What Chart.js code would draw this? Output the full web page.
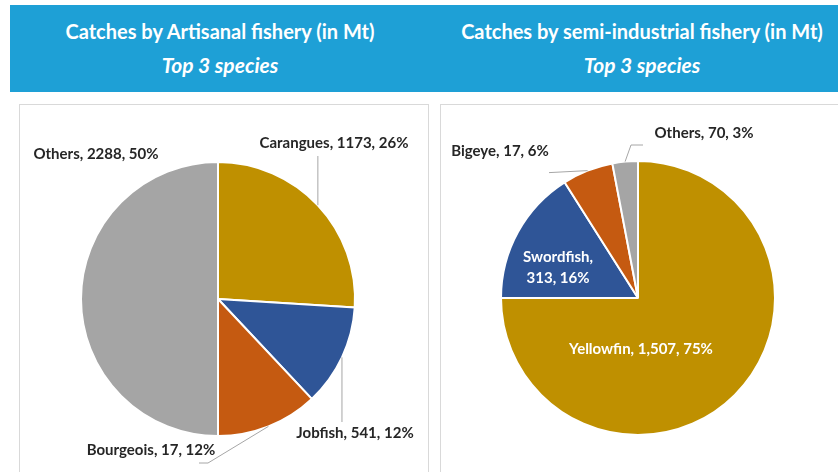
<!DOCTYPE html>
<html>
<head>
<meta charset="utf-8">
<script src="https://cdn.jsdelivr.net/npm/chart.js@4/dist/chart.umd.min.js"></script>
<style>
  body { margin: 0; background: #fff; width: 838px; height: 472px; overflow: hidden; position: relative; font-family: Lato, "Open Sans", sans-serif; }
  .header { position: absolute; left: 10px; top: 5px; width: 828px; height: 87px; background: #1ea0d6; }
  .title { position: absolute; top: 10px; color: #fff; font-weight: bold; font-size: 20px; text-align: center; line-height: 33px; white-space: nowrap; }
  .title i { display: block; font-size: 21px; }
  .panel { position: absolute; top: 104px; height: 380px; border: 1.5px solid #d9d9d9; box-sizing: border-box; }
  .panel canvas { position: absolute; left: 0; top: 0; }
</style>
</head>
<body>
<div class="header">
  <div class="title" style="left:30px;width:360px">Catches by Artisanal fishery (in Mt)<i>Top 3 species</i></div>
  <div class="title" style="left:432px;width:400px">Catches by semi-industrial fishery (in Mt)<i>Top 3 species</i></div>
</div>
<div class="panel" style="left:19px;width:410px"><canvas id="artisanal"></canvas></div>
<div class="panel" style="left:440px;width:410px"><canvas id="semiIndustrial"></canvas></div>
<script>
// Artisanal fishery
const artLabels = ['Carangues', 'Jobfish', 'Bourgeois', 'Others'];
const artValues = ['1173', '541', '17', '2288'];
const artShares = [26, 12, 12, 50];

// Semi-industrial fishery
const semiLabels = ['Yellowfin', 'Swordfish', 'Bigeye', 'Others'];
const semiValues = ['1,507', '313', '17', '70'];
const semiShares = [75, 16, 6, 3];

const colors = ['#bf9000', '#2f5597', '#c55a11', '#a5a5a5'];

// Labels drawn next to each slice, with leader lines from the slice edge
const sliceLabels = {
    id: 'sliceLabels',
    afterDatasetsDraw(chart, args, opts) {
        const c = chart.ctx;
        const meta = chart.getDatasetMeta(0);
        const names = chart.data.labels;
        const vals = opts.values;
        const shares = chart.data.datasets[0].data;
        meta.data.forEach((arc, i) => {
            const p = opts.place[i];
            const cx = arc.x, cy = arc.y;
            const mid = (arc.startAngle + arc.endAngle) / 2;
            const ex = cx + Math.cos(mid) * arc.outerRadius;
            const ey = cy + Math.sin(mid) * arc.outerRadius;
            const tx = cx + p.dx, ty = cy + p.dy;
            if (p.leader) {
                c.save();
                c.strokeStyle = '#a6a6a6';
                c.lineWidth = 1;
                c.beginPath();
                c.moveTo(ex, ey);
                p.leader(ex, ey, tx, ty).forEach(pt => c.lineTo(pt[0], pt[1]));
                c.stroke();
                c.restore();
            }
            c.save();
            c.font = 'bold 15px Lato, sans-serif';
            c.textAlign = 'center';
            c.textBaseline = 'middle';
            c.fillStyle = p.inside ? '#fff' : '#262626';
            if (p.wrap) {
                c.fillText(names[i] + ',', tx, ty - 10);
                c.fillText(vals[i] + ', ' + shares[i] + '%', tx, ty + 11);
            } else {
                c.fillText(names[i] + ', ' + vals[i] + ', ' + shares[i] + '%', tx, ty);
            }
            c.restore();
        });
    }
};

function makePie(id, labels, shares, values, padding, place) {
    const el = document.getElementById(id);
    el.width = id === 'artisanal' ? 409 : 398;
    el.height = 368;
    return new Chart(el.getContext('2d'), {
        type: 'pie',
        data: {
            labels: labels,
            datasets: [{
                data: shares,
                backgroundColor: colors,
                borderColor: '#ffffff',
                borderWidth: 2
            }]
        },
        options: {
            responsive: false,
            animation: false,
            layout: { padding: padding },
            plugins: {
                legend: { display: false },
                tooltip: { enabled: false },
                sliceLabels: { values: values, place: place }
            }
        },
        plugins: [sliceLabels]
    });
}

makePie('artisanal', artLabels, artShares, artValues,
    { left: 50, right: 63, top: 56, bottom: 36 },
    [
        { dx: 116, dy: -156, leader: (ex, ey, tx, ty) => [[ex, ty + 13]] },
        { dx: 137, dy: 134, leader: (ex, ey, tx, ty) => [[ex, ty - 11]] },
        { dx: -67, dy: 151, leader: (ex, ey, tx, ty) => [[tx + 57, ty + 13], [tx + 48, ty + 13]] },
        { dx: -122, dy: -145 }
    ]);

makePie('semiIndustrial', semiLabels, semiShares, semiValues,
    { left: 55, right: 59, top: 55, bottom: 37 },
    [
        { dx: 3, dy: 51, inside: true },
        { dx: -80, dy: -31, inside: true, wrap: true },
        { dx: -138, dy: -147, leader: (ex, ey, tx, ty) => [[tx + 49, ey + 2]] },
        { dx: 66, dy: -165, leader: (ex, ey, tx, ty) => [[tx - 73, ty + 12], [tx - 61, ty + 12]] }
    ]);
</script>
</body>
</html>
